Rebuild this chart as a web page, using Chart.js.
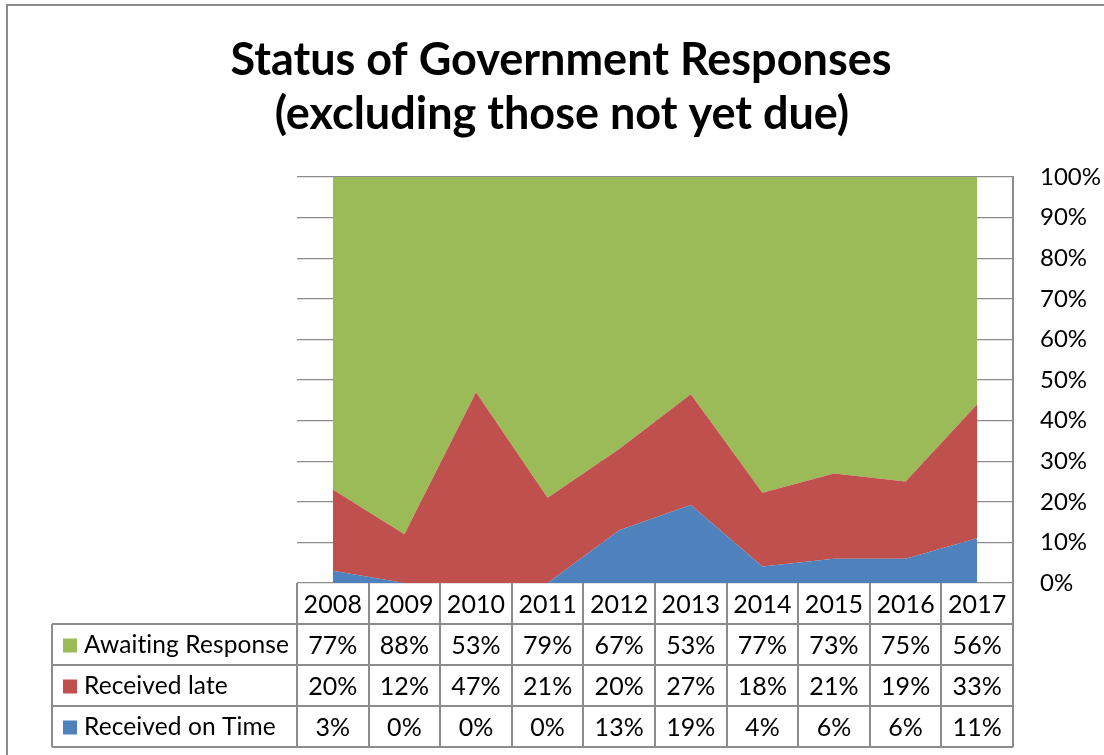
<!DOCTYPE html>
<html>
<head>
<meta charset="utf-8">
<title>Status of Government Responses</title>
<script src="https://cdn.jsdelivr.net/npm/chart.js@4/dist/chart.umd.min.js"></script>
<style>
    html, body { margin: 0; padding: 0; background: #ffffff; }
    #chartBox { width: 1104px; height: 755px; position: relative; }
</style>
</head>
<body>
<div id="chartBox"><canvas id="responsesChart"></canvas></div>
<script>
var years = ['2008', '2009', '2010', '2011', '2012', '2013', '2014', '2015', '2016', '2017'];
var receivedOnTime = [3, 0, 0, 0, 13, 19, 4, 6, 6, 11];
var receivedLate = [20, 12, 47, 21, 20, 27, 18, 21, 19, 33];
var awaitingResponse = [77, 88, 53, 79, 67, 53, 77, 73, 75, 56];
var percentTicks = [0, 10, 20, 30, 40, 50, 60, 70, 80, 90, 100];
var titleLines = ['Status of Government Responses', '(excluding those not yet due)'];

var labelFont = 'Lato';
var borderGrey = '#8c8c8c';

// 100% stacked: each year is scaled to its own total
function shareOf(series) {
    return series.map(function (v, i) {
        var total = receivedOnTime[i] + receivedLate[i] + awaitingResponse[i];
        return v / total * 100;
    });
}

// data table rows, top to bottom
var tableRows = [
    { name: 'Awaiting Response', values: awaitingResponse, color: '#9BBB59' },
    { name: 'Received late', values: receivedLate, color: '#C0504D' },
    { name: 'Received on Time', values: receivedOnTime, color: '#4F81BD' }
];

var frameAndTable = {
    id: 'frameAndTable',
    afterDraw: function (chart) {
        var ctx = chart.ctx;
        var area = chart.chartArea;
        var xs = chart.scales.x;
        var colW = xs.getPixelForValue(1) - xs.getPixelForValue(0);
        var rowH = 41;
        var top = area.bottom;
        var legendLeft = 52;

        ctx.save();

        // outer frame
        ctx.strokeStyle = '#8a8a8a';
        ctx.lineWidth = 2;
        ctx.beginPath();
        ctx.moveTo(7, 760);
        ctx.lineTo(7, 5);
        ctx.lineTo(1110, 5);
        ctx.stroke();

        // title
        ctx.fillStyle = '#000000';
        ctx.textAlign = 'center';
        ctx.textBaseline = 'alphabetic';
        ctx.font = 'bold 45px ' + labelFont;
        ctx.fillText(titleLines[0], 561, 75);
        ctx.fillText(titleLines[1], 562, 129);

        // table grid
        ctx.strokeStyle = borderGrey;
        ctx.lineWidth = 2;
        ctx.beginPath();
        for (var k = 0; k <= years.length; k++) {
            var cx = Math.round(area.left + k * colW);
            ctx.moveTo(cx, top);
            ctx.lineTo(cx, top + rowH * 4);
        }
        for (var r = 1; r <= 4; r++) {
            ctx.moveTo(legendLeft, top + rowH * r);
            ctx.lineTo(area.right, top + rowH * r);
        }
        ctx.moveTo(legendLeft, top + rowH);
        ctx.lineTo(legendLeft, top + rowH * 4);
        ctx.stroke();

        // a tiny letter spacing keeps Lato from joining "ti"
        ctx.letterSpacing = '0.1px';

        // year header
        ctx.font = '25px ' + labelFont;
        ctx.textBaseline = 'middle';
        ctx.textAlign = 'center';
        years.forEach(function (y, i) {
            ctx.fillText(y, xs.getPixelForValue(i), top + rowH / 2 + 1);
        });

        // series rows
        tableRows.forEach(function (row, r) {
            var midY = top + rowH * (r + 1) + rowH / 2 + 1;
            ctx.fillStyle = row.color;
            ctx.fillRect(63, midY - 7, 14, 14);
            ctx.fillStyle = '#000000';
            ctx.font = '24.5px ' + labelFont;
            ctx.textAlign = 'left';
            ctx.fillText(row.name, 84, midY);
            ctx.font = '25px ' + labelFont;
            ctx.textAlign = 'center';
            row.values.forEach(function (v, i) {
                ctx.fillText(v + '%', xs.getPixelForValue(i), midY);
            });
        });

        ctx.restore();
    }
};

function areaSet(label, values, color, fill) {
    return {
        label: label,
        data: shareOf(values),
        backgroundColor: color,
        borderColor: color,
        borderWidth: 0,
        pointRadius: 0,
        pointHoverRadius: 0,
        tension: 0,
        fill: fill
    };
}

new Chart(document.getElementById('responsesChart'), {
    type: 'line',
    data: {
        labels: years,
        datasets: [
            areaSet('Received on Time', receivedOnTime, '#4F81BD', 'origin'),
            areaSet('Received late', receivedLate, '#C0504D', '-1'),
            areaSet('Awaiting Response', awaitingResponse, '#9BBB59', '-1')
        ]
    },
    options: {
        responsive: true,
        maintainAspectRatio: false,
        animation: false,
        layout: {
            padding: { top: 177, left: 297, right: 0, bottom: 172 }
        },
        plugins: {
            legend: { display: false },
            tooltip: { enabled: false },
            title: { display: false }
        },
        scales: {
            x: {
                display: false,
                offset: true
            },
            y: {
                position: 'right',
                stacked: true,
                min: 0,
                max: 100,
                afterFit: function (scale) { scale.width = 91; },
                afterBuildTicks: function (scale) {
                    scale.ticks = percentTicks.map(function (v) { return { value: v }; });
                },
                grid: {
                    color: '#8c8c8c',
                    lineWidth: 1.2,
                    drawTicks: false
                },
                border: { display: true, color: '#8c8c8c', width: 2 },
                ticks: {
                    padding: 27,
                    color: '#000000',
                    font: { family: labelFont, size: 24 },
                    callback: function (v) { return v + '%'; }
                }
            }
        }
    },
    plugins: [frameAndTable]
});
</script>
</body>
</html>
